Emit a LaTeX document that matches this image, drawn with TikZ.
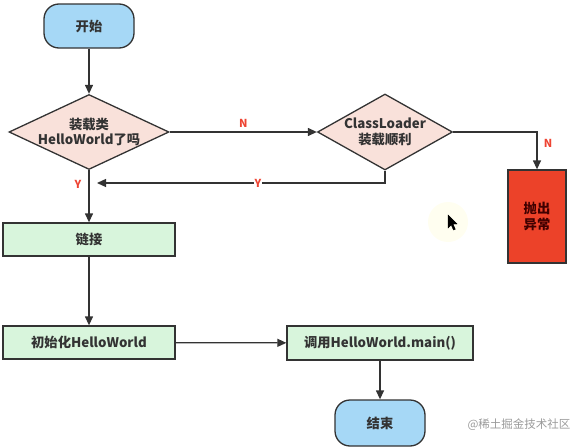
\documentclass[tikz,border=0pt]{standalone}
\usepackage{fontspec}
\setmainfont{Noto Sans CJK SC}
\usetikzlibrary{shapes.geometric,arrows.meta}
\definecolor{linec}{HTML}{333333}
\definecolor{textc}{HTML}{333333}
\definecolor{termblue}{HTML}{A6D8F6}
\definecolor{diapink}{HTML}{F9E1DA}
\definecolor{procgreen}{HTML}{D8F5DC}
\definecolor{errred}{HTML}{EC4229}
\definecolor{labred}{HTML}{EE4433}
\definecolor{wmgray}{HTML}{9A9A9A}
\begin{document}
\begin{tikzpicture}[x=1pt,y=-1pt,
  base/.style={draw=linec, line width=1.3pt, text=textc, font=\bfseries\fontsize{13.3}{15.5}\selectfont, align=center},
  term/.style={base, rectangle, fill=termblue, rounded corners=15pt, minimum width=90pt, minimum height=44pt},
  dia/.style={base, diamond, fill=diapink, inner sep=0pt},
  proc/.style={base, rectangle, fill=procgreen, minimum width=172pt, minimum height=33pt},
  errbox/.style={base, rectangle, fill=errred, minimum width=58pt, minimum height=93pt, text=black!75!red},
  arr/.style={draw=linec, line width=1.3pt, -{Triangle[length=9pt,width=8pt]}},
  lab/.style={text=labred, font=\bfseries\fontsize{11}{13}\selectfont, inner sep=1pt}
]
\useasboundingbox (0,0) rectangle (587,447);
% glow behind cursor
\fill[yellow!6] (448,222) circle (20);

\node[term] (start) at (89,26) {开始};
\node[dia, minimum width=160pt, minimum height=75pt,
      label={[base, draw=none, align=center]center:装载类\\HelloWorld了吗}] (d1) at (89,132) {};
\node[dia, minimum width=135pt, minimum height=76pt,
      label={[base, draw=none, align=center]center:ClassLoader\\装载顺利}] (d2) at (385,132) {};
\node[errbox] (err) at (537,216.5) {抛出\\异常};
\node[proc] (link) at (89,239.5) {链接};
\node[proc] (init) at (89,342.5) {初始化HelloWorld};
\node[proc, minimum width=186pt, minimum height=34pt] (call) at (380,343) {调用HelloWorld.main()};
\node[term, minimum height=46pt] (end) at (380,423) {结束};

\coordinate (yend) at (97,183);

\draw[arr] (start) -- (d1);
\draw[arr] (d1.east) -- node[lab, above=3pt] (n1) {N} (d2.west);
\draw[arr] (d2.east) -| (err.north);
\node[lab] (n2) at (548,143) {N};
\draw[arr] (d2.south) |- (yend);
\node[lab, fill=white] (y2) at (258,183) {Y};
\draw[arr] (d1.south) -- (link.north);
\node[lab] (y1) at (78,184) {Y};
\draw[arr] (link) -- (init);
\draw[arr] (init) -- (call);
\draw[arr] (call) -- (end);

\node[text=wmgray, font=\fontsize{11.5}{13}\selectfont] (wm) at (519,425) {@稀土掘金技术社区};

% mouse cursor
\filldraw[black, line width=0.4pt] (448,215) -- (448,228) -- (451.2,224.8) -- (453.5,230) -- (455.3,229.2) -- (453,224) -- (457,224) -- cycle;
\end{tikzpicture}
\end{document}
